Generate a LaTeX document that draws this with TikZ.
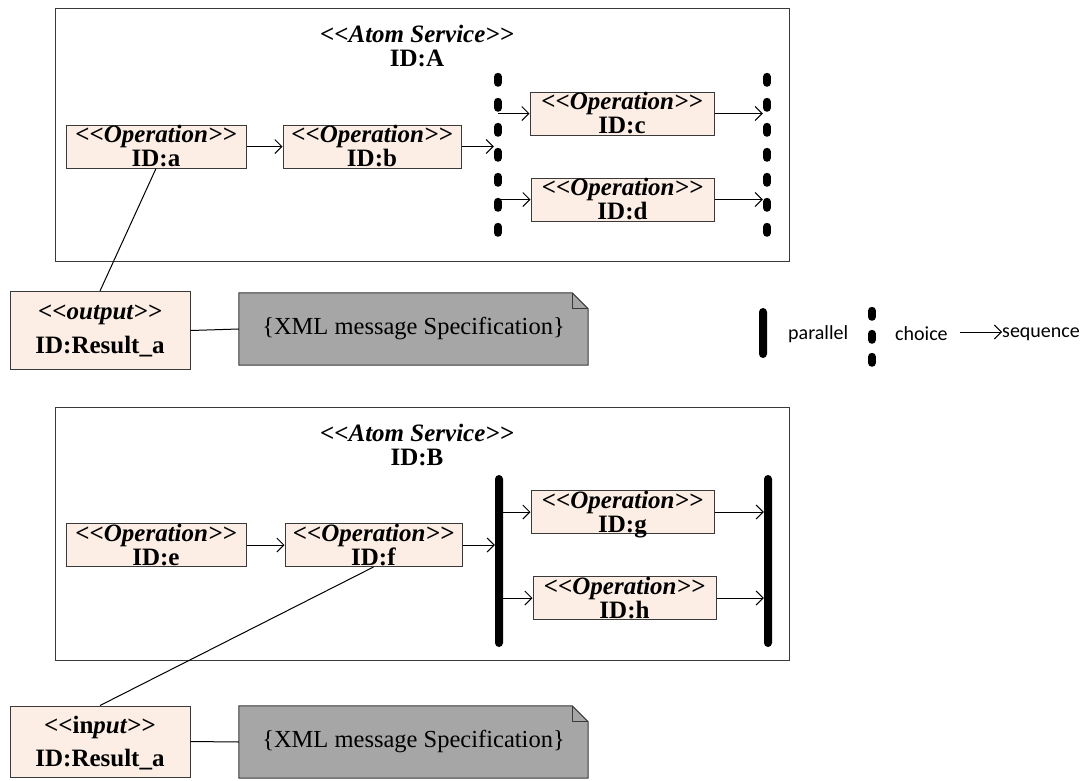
\documentclass[tikz,border=0pt]{standalone}
\usepackage{fontspec}
\setmainfont{Liberation Serif}
\newfontfamily\legendfont{Carlito}
\usetikzlibrary{arrows.meta}
\definecolor{opfill}{HTML}{FCEEE4}
\definecolor{notefill}{HTML}{A6A6A6}
\definecolor{edgegray}{HTML}{3A3A3A}
% stereotype brackets, kept apart so they are not turned into guillemets
\newcommand\stL{<\kern0pt<}
\newcommand\stR{>\kern0pt>}
\newcommand\stereo[1]{\textbf{\textit{\stL#1\stR}}}
% operation box: name, centre, width, identifier
\newcommand\opnode[4]{%
  \node[opbox, minimum width=#3] (#1) at (#2) {};
  \node[optext] (#1S) at ([yshift=4pt]#1.center) {\stereo{Operation}};
  \node[optext] (#1I) at ([yshift=-20pt]#1.center) {\textbf{ID:#4}};
}
% note with a folded corner, drawn around an empty node
\newcommand\notenode[2]{%
  \node[notebox] (#1) at (#2) {};
  \draw[noteline] (#1.north west) -- ([xshift=-16pt]#1.north east) -- ([yshift=-16pt]#1.north east)
    -- (#1.south east) -- (#1.south west) -- cycle;
  \draw[edgegray, line width=1pt] ([xshift=-16pt]#1.north east) -- ([xshift=-16pt,yshift=-16pt]#1.north east)
    -- ([yshift=-16pt]#1.north east);
  \node[notebox] (#1T) at (#1) {\{XML message Specification\}};
}

\begin{document}
\begin{tikzpicture}[x=1pt,y=-1pt,
  service/.style={draw=edgegray, line width=0.9pt, minimum width=734pt, minimum height=253pt, inner sep=0pt},
  svctext/.style={inner sep=0pt, anchor=base, font=\fontsize{25}{25}\selectfont},
  opbox/.style={draw=edgegray, fill=opfill, line width=1pt, minimum height=43pt, inner sep=0pt},
  optext/.style={inner sep=0pt, anchor=base, font=\fontsize{25}{25}\selectfont},
  iobox/.style={draw=edgegray, fill=opfill, line width=1pt, minimum width=180pt, inner sep=0pt},
  iotext/.style={inner sep=0pt, anchor=base, font=\fontsize{25}{25}\selectfont},
  notebox/.style={inner sep=0pt, minimum width=349pt, minimum height=72pt, font=\fontsize{24.5}{25}\selectfont},
  noteline/.style={draw=edgegray, fill=notefill, line width=1pt},
  slot/.style={inner sep=0pt, minimum width=8pt},
  choicebar/.style={line width=8pt, line cap=round, dash pattern=on 6pt off 19pt},
  parbar/.style={fill=black, rounded corners=4pt, inner sep=0pt, minimum width=8pt},
  seq/.style={line width=1pt, -{Straight Barb[length=7pt,width=14pt]}},
  link/.style={line width=1pt, draw=black},
  legend/.style={inner sep=0pt, anchor=base west, font=\legendfont\fontsize{20}{20}\selectfont}
]
\useasboundingbox (0,0) rectangle (1088,780);

% ---------- service A ----------
\node[service] (svcA) at (422,134.5) {};
\node[svctext] (titleA) at (417,42) {\stereo{Atom Service}};
\node[svctext] (idA) at (417,66) {\textbf{ID:A}};

\opnode{opa}{156,146.5}{180pt}{a}
\opnode{opb}{372,146.5}{178pt}{b}
\opnode{opc}{622,113.5}{184pt}{c}
\opnode{opd}{622.5,199.5}{183pt}{d}

\node[slot, minimum height=164pt] (chAL) at (498,155) {};
\node[slot, minimum height=164pt] (chAR) at (767,155) {};
\draw[choicebar] ([yshift=-4pt]chAL.north) -- ([yshift=4pt]chAL.south);
\draw[choicebar] ([yshift=-4pt]chAR.north) -- ([yshift=4pt]chAR.south);

\draw[seq] (opa.east) -- (opb.west);
\draw[seq] (opb.east) -- (opb.east -| chAL.west);
\draw[seq] (chAL.center |- opc.west) -- (opc.west);
\draw[seq] (chAL.center |- opd.west) -- (opd.west);
\draw[seq] (opc.east) -- (opc.east -| chAR.west);
\draw[seq] (opd.east) -- (opd.east -| chAR.west);

% ---------- output message ----------
\node[iobox, minimum height=78pt] (out) at (100,330.5) {};
\node[iotext] (outS) at (100,319) {\stereo{output}};
\node[iotext] (outI) at (100,353) {\textbf{ID:Result\_a}};
\notenode{noteA}{413.5,329}
\draw[link] (opa.south) -- (out.north);
\draw[link] (out.east) -- (noteA.west);

% ---------- legend ----------
\node[parbar, minimum height=50pt] (lgPar) at (763,333) {};
\node[legend] (lgParTxt) at (788,339) {parallel};
\node[slot, minimum height=60pt] (lgCh) at (872,337) {};
\draw[choicebar, dash pattern=on 6pt off 17pt] ([yshift=-4pt]lgCh.north) -- ([yshift=4pt]lgCh.south);
\node[legend] (lgChTxt) at (895,340) {choice};
\node[legend] (lgSeqTxt) at (1002,337) {sequence};
\coordinate (lgSeqStart) at (960,332);
\draw[seq] (lgSeqStart) -- (lgSeqStart -| lgSeqTxt.west);

% ---------- service B ----------
\node[service] (svcB) at (422,533.5) {};
\node[svctext] (titleB) at (417,441) {\stereo{Atom Service}};
\node[svctext] (idB) at (417,465) {\textbf{ID:B}};

\opnode{ope}{156,545}{180pt}{e}
\opnode{opf}{373.5,545}{177pt}{f}
\opnode{opg}{622.5,512}{183pt}{g}
\opnode{oph}{624.5,598}{183pt}{h}

\node[parbar, minimum height=172pt] (paBL) at (499,561) {};
\node[parbar, minimum height=172pt] (paBR) at (768,561) {};

\draw[seq] (ope.east) -- (opf.west);
\draw[seq] (opf.east) -- (opf.east -| paBL.west);
\draw[seq] (paBL.east |- opg.west) -- (opg.west);
\draw[seq] (paBL.east |- oph.west) -- (oph.west);
\draw[seq] (opg.east) -- (opg.east -| paBR.west);
\draw[seq] (oph.east) -- (oph.east -| paBR.west);

% ---------- input message ----------
\node[iobox, minimum height=71pt] (inp) at (100,741.5) {};
\node[iotext] (inpS) at (100,733) {\textbf{\stL in\textit{put}\stR}};
\node[iotext] (inpI) at (100,766) {\textbf{ID:Result\_a}};
\notenode{noteB}{413.5,742}
\draw[link] (opf.south) -- (inp.north);
\draw[link] (inp.east) -- (noteB.west);
\end{tikzpicture}
\end{document}
